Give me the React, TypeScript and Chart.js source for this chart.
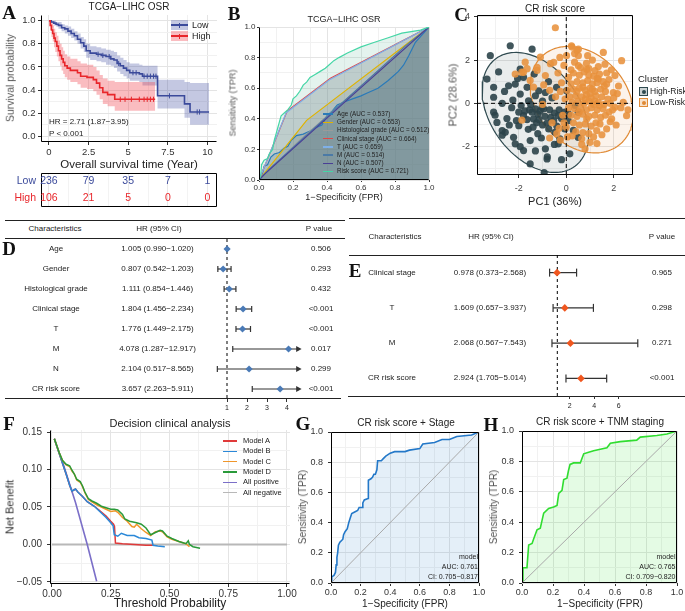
import React, { useEffect, useRef } from "react";
import { Chart, registerables } from "chart.js";

Chart.register(...registerables);

const SANS = '"Liberation Sans", Arial, Helvetica, sans-serif';
const SERIF = '"Liberation Serif", "Times New Roman", serif';
Chart.defaults.font.family = SANS;

// ================= DATA =================
// ---- A: Kaplan–Meier, TCGA-LIHC OSR ----
const kmLowTime = [0, 0.15, 0.3, 0.45, 0.6, 0.8, 1.0, 1.2, 1.4, 1.6, 1.8, 2.0, 2.2, 2.35, 2.6, 3.0, 3.3, 3.6, 3.9, 4.1, 4.3, 4.5, 4.7, 4.9, 5.1, 5.7, 5.9, 6.85, 8.55, 8.9, 10.1];
const kmLowSurv = [1.0, 0.99, 0.98, 0.97, 0.96, 0.94, 0.93, 0.91, 0.89, 0.87, 0.84, 0.81, 0.78, 0.74, 0.72, 0.71, 0.70, 0.69, 0.67, 0.66, 0.63, 0.61, 0.59, 0.57, 0.55, 0.54, 0.52, 0.35, 0.28, 0.21, 0.21];
const kmLowUpper = [1.0, 1.0, 1.0, 0.99, 0.99, 0.97, 0.96, 0.95, 0.93, 0.91, 0.89, 0.86, 0.84, 0.80, 0.78, 0.77, 0.76, 0.75, 0.74, 0.73, 0.70, 0.68, 0.66, 0.64, 0.63, 0.62, 0.61, 0.49, 0.47, 0.46, 0.46];
const kmLowLower = [1.0, 0.98, 0.96, 0.95, 0.93, 0.91, 0.89, 0.87, 0.85, 0.83, 0.80, 0.76, 0.73, 0.68, 0.66, 0.65, 0.64, 0.62, 0.61, 0.59, 0.56, 0.54, 0.52, 0.50, 0.48, 0.47, 0.44, 0.24, 0.16, 0.10, 0.10];
const kmLowCensor = [3.1, 3.4, 3.8, 4.4, 5.3, 5.5, 6.0, 6.2, 6.4, 6.6, 6.75, 7.6, 9.35, 9.5];
const kmHighTime = [0, 0.08, 0.16, 0.24, 0.32, 0.4, 0.5, 0.6, 0.7, 0.8, 0.9, 1.0, 1.15, 1.35, 1.8, 2.0, 2.4, 2.8, 3.0, 3.2, 3.4, 3.7, 4.15, 6.7];
const kmHighSurv = [1.0, 0.96, 0.92, 0.89, 0.85, 0.82, 0.78, 0.74, 0.70, 0.67, 0.64, 0.61, 0.59, 0.57, 0.55, 0.52, 0.51, 0.49, 0.46, 0.42, 0.38, 0.36, 0.32, 0.32];
const kmHighUpper = [1.0, 1.0, 0.99, 0.96, 0.93, 0.90, 0.87, 0.83, 0.80, 0.77, 0.74, 0.71, 0.69, 0.67, 0.65, 0.63, 0.62, 0.60, 0.57, 0.53, 0.50, 0.48, 0.47, 0.47];
const kmHighLower = [1.0, 0.92, 0.86, 0.82, 0.77, 0.73, 0.69, 0.65, 0.61, 0.57, 0.54, 0.51, 0.49, 0.47, 0.45, 0.42, 0.41, 0.39, 0.36, 0.32, 0.28, 0.26, 0.22, 0.22];
const kmHighCensor = [4.5, 4.8, 5.2, 5.7, 6.0, 6.2, 6.4, 6.6];
const kmXTicks = [0, 2.5, 5, 7.5, 10];
const kmXMinor = [1.25, 3.75, 6.25, 8.75];
const kmYTicks = [0, 0.2, 0.4, 0.6, 0.8, 1.0];
const kmYMinor = [0.1, 0.3, 0.5, 0.7, 0.9];
const riskTimes = [0, 2.5, 5, 7.5, 10];
const riskLow = [236, 79, 35, 7, 1];
const riskHigh = [106, 21, 5, 0, 0];

// ---- B: ROC of clinical factors ----
const rocAge = [[0, 0], [0.02, 0.04], [0.03, 0.09], [0.05, 0.1], [0.07, 0.15], [0.09, 0.17], [0.12, 0.18], [0.15, 0.21], [0.17, 0.22], [0.19, 0.26], [0.22, 0.29], [0.26, 0.3], [0.3, 0.32], [0.33, 0.34], [0.37, 0.36], [0.4, 0.42], [0.43, 0.45], [0.46, 0.49], [0.5, 0.51], [0.55, 0.53], [0.6, 0.55], [0.64, 0.57], [0.7, 0.6], [0.76, 0.65], [0.82, 0.71], [0.85, 0.75], [0.88, 0.81], [0.92, 0.9], [1, 1]];
const rocGender = [[0, 0], [0.28, 0.39], [1, 1]];
const rocHist = [[0, 0], [0.25, 0.27], [0.75, 0.76], [1, 1]];
const rocClinical = [[0, 0], [0.165, 0.45], [0.42, 0.665], [1, 1]];
const rocT = [[0, 0], [0.16, 0.44], [0.415, 0.655], [1, 1]];
const rocM = [[0, 0], [0.06, 0.07], [0.5, 0.515], [0.86, 0.875], [1, 1]];
const rocN = [[0, 0], [0.03, 0.035], [0.55, 0.555], [1, 1]];
const rocRisk = [[0, 0], [0.01, 0.03], [0.015, 0.1], [0.03, 0.13], [0.05, 0.14], [0.06, 0.17], [0.08, 0.2], [0.09, 0.26], [0.1, 0.3], [0.11, 0.34], [0.12, 0.38], [0.13, 0.42], [0.15, 0.44], [0.17, 0.46], [0.19, 0.49], [0.2, 0.53], [0.22, 0.55], [0.24, 0.58], [0.26, 0.62], [0.28, 0.64], [0.3, 0.67], [0.33, 0.69], [0.36, 0.71], [0.39, 0.73], [0.41, 0.75], [0.44, 0.78], [0.47, 0.8], [0.52, 0.83], [0.6, 0.87], [0.68, 0.9], [0.76, 0.93], [0.84, 0.96], [0.95, 0.98], [1, 1]];
const rocBCurves = [rocAge, rocGender, rocHist, rocClinical, rocT, rocM, rocN, rocRisk];
const rocBLabels = ["Age (AUC = 0.537)", "Gender (AUC = 0.553)", "Histological grade (AUC = 0.512)", "Clinical stage (AUC = 0.664)", "T (AUC = 0.659)", "M (AUC = 0.514)", "N (AUC = 0.507)", "Risk score (AUC = 0.721)"];
const rocBColors = ["#2a7ab9", "#e0b400", "#9a9a9a", "#e04848", "#7fb0e8", "#4b7aa6", "#4a3f96", "#45d6a6"];
const rocBFill = ["#3f6d8c", "#8a8a6a", "#7a8488", "#8c6a6a", "#6f8fa8", "#4f6f86", "#4f5a7a", "#7fc4ae"];
const unitTicks = [0, 0.2, 0.4, 0.6, 0.8, 1.0];
const unitMinor = [0.1, 0.3, 0.5, 0.7, 0.9];

// ---- C: PCA of CR risk score ----
const highRiskPts = [
  [-2.36, 2.66], [-1.44, 2.5], [-3.2, 2.2], [-1.94, 1.58], [-3.34, 1.12], [-2.43, 0.81], [-2.15, 0.89], [-3.06, 0.74], [-1.8, 1.2], [-1.65, 0.74], [-1.94, 0.43], [-1.16, 0.58], [-0.88, 0.5], [-3.06, 0.28], [-1.59, 0.12], [-1.3, 0.35], [-2.6, 0.55], [-2.25, 0.15], [-1.0, 0.1], [-0.6, 0.25], [-0.41, 0.74], [0.01, 0.58], [-2.05, 1.15], [-1.35, 1.35], [-2.85, 1.45], [-0.75, 1.0],
  [-3.06, -0.41], [-2.92, -0.88], [-2.0, -0.41], [-1.8, -0.57], [-1.44, -0.41], [-1.3, -0.26], [-1.02, -0.18], [-1.38, -0.72], [-1.2, -0.5], [-1.1, -0.35], [-1.55, -0.3], [-1.65, -0.75], [-0.9, -0.6], [-0.7, -0.3], [-0.5, -0.45], [-0.3, -0.3], [-0.2, -0.7], [-0.06, -0.41], [0.1, -0.5], [0.37, -0.1], [-0.8, -0.9], [-1.0, -1.0], [-1.25, -0.9], [-2.3, -0.2], [-2.5, -0.7], [-2.7, 0.0], [-1.9, -0.1], [-2.1, -0.8], [-0.34, -0.57], [0.08, -0.8], [0.5, -0.41], [-1.5, -0.05], [-1.15, -0.75], [-0.65, -0.65], [-1.75, -0.35], [-0.95, -0.25], [-1.4, -1.1],
  [-2.0, -1.03], [-2.57, -1.34], [-2.7, -1.26], [-2.22, -1.57], [-2.15, -1.87], [-1.52, -1.72], [-1.8, -2.18], [-0.88, -2.1], [-0.81, -2.57], [-1.52, -2.8], [-0.93, -3.2], [-0.53, -0.8], [-0.74, -1.18], [-1.94, -2.0], [-2.7, -1.47], [-3.0, -0.55], [-0.8, -2.47], [-0.48, -1.34], [-0.06, -1.18], [-0.27, -1.64], [-0.34, -1.87], [0.15, -2.33], [0.5, -1.57], [-0.5, -1.9], [-1.2, -1.4], [-1.6, -1.2], [-0.4, -1.05], [0.3, -1.25], [-1.05, -1.6], [-2.4, -1.0], [-1.3, -2.2], [-0.2, -2.6],
];
const lowRiskPts = [
  [-0.46, 3.49], [0.22, 2.66], [0.51, 2.5], [0.24, 2.6], [0.45, 2.44], [0.51, 2.2], [1.56, 2.35], [2.33, 1.97], [1.63, 1.81], [-0.27, 2.12], [0.01, 2.2], [0.51, 1.74], [0.86, 1.58], [1.21, 1.51], [2.05, 1.28], [1.35, 1.12], [1.7, 0.89], [1.98, 0.5], [2.4, 0.05], [2.54, -0.57], [2.05, -0.18], [1.91, -0.72], [1.7, -1.18], [1.28, -1.26], [1.29, -1.86], [0.79, -2.1], [0.65, -1.64], [1.42, -0.95], [0.86, -0.72],
  [-1.73, 1.9], [-1.87, 1.44], [-1.65, 1.6], [-1.87, -0.78], [-0.25, -1.7], [-1.09, 2.13], [-1.23, 1.52], [-0.67, 1.83], [-1.52, 1.06], [-1.38, 0.75], [-2.15, 1.35], [-1.8, 1.43], [-1.23, 1.66], [-0.88, 1.28], [-0.53, 1.89], [-0.95, 0.85], [-0.7, 0.6], [-0.35, 1.4], [-0.2, 0.95], [-0.45, 0.3], [-0.1, -0.9], [-0.4, -1.4], [0.05, -1.55], [-1.0, -0.05], [-0.7, -1.6],
  [0.1, 1.2], [0.3, 1.4], [0.55, 1.3], [0.75, 1.45], [0.95, 1.3], [1.15, 1.25], [1.4, 1.35], [0.2, 0.9], [0.45, 1.0], [0.7, 0.95], [0.9, 1.05], [1.1, 0.9], [1.3, 0.95], [1.55, 1.0], [1.8, 1.1], [0.05, 0.6], [0.3, 0.65], [0.55, 0.7], [0.8, 0.6], [1.0, 0.7], [1.2, 0.55], [1.45, 0.65], [1.65, 0.55], [0.15, 0.3], [0.4, 0.35], [0.65, 0.3], [0.85, 0.4], [1.05, 0.25], [1.25, 0.35], [1.5, 0.3], [1.75, 0.2], [2.0, 0.25], [0.25, 0.05], [0.5, 0.1], [0.75, 0.0], [0.95, 0.1], [1.15, -0.05], [1.35, 0.05], [1.6, -0.05], [1.85, 0.0], [0.1, -0.2], [0.35, -0.25], [0.6, -0.2], [0.85, -0.3], [1.05, -0.2], [1.3, -0.3], [1.55, -0.25], [1.8, -0.4], [0.2, -0.55], [0.45, -0.6], [0.7, -0.5], [0.95, -0.6], [1.2, -0.55], [1.45, -0.65], [1.65, -0.55], [0.3, -0.9], [0.55, -1.0], [0.8, -0.95], [1.05, -1.05], [1.25, -0.9], [0.4, -1.3], [0.7, -1.35], [0.95, -1.4], [1.15, -1.55], [0.25, -1.5], [1.5, -1.45], [0.0, -1.1], [-0.15, -0.55], [-0.05, 0.2], [-0.25, 0.55], [0.6, 1.65], [0.85, 1.85], [1.1, 2.0], [0.35, 1.9], [1.35, 1.7], [1.9, 1.55], [2.2, 0.8], [2.3, -0.2], [2.1, -1.0], [1.95, -0.3], [2.15, 0.45], [1.7, 1.4], [0.65, -1.9], [1.0, -1.8], [-0.6, -0.9], [-0.3, -1.15], [0.9, 2.2], [1.2, 0.1], [0.45, 0.55], [0.7, 0.75], [1.0, 0.45], [1.4, -0.1], [0.55, -0.4], [0.8, 0.2], [1.1, 0.65], [1.3, 1.15], [0.2, 1.55], [-0.1, 1.75], [1.6, 0.8], [0.95, 1.6], [2.6, -0.3], [1.85, -0.85], [0.35, 2.3],
];
// confidence ellipses: centre x, centre y, semi-axis a, semi-axis b, angle (deg)
const highEllipse = [-1.3, -0.42, 3.0, 1.93, -60];
const lowEllipse = [0.65, 0.17, 2.63, 1.96, -58];
const pcXTicks = [-2, 0, 2];
const pcXMinor = [-3, -1, 1];
const pcYTicks = [-2, 0, 2, 4];
const pcYMinor = [-3, -1, 1, 3];

// ---- D: univariate Cox ----
const dRows = ["Age", "Gender", "Histological grade", "Clinical stage", "T", "M", "N", "CR risk score"];
const dHR = [1.005, 0.807, 1.111, 1.804, 1.776, 4.078, 2.104, 3.657];
const dLow = [0.99, 0.542, 0.854, 1.456, 1.449, 1.287, 0.517, 2.263];
const dHigh = [1.02, 1.203, 1.446, 2.234, 2.175, 12.917, 8.565, 5.911];
const dP = ["0.506", "0.293", "0.432", "<0.001", "<0.001", "0.017", "0.299", "<0.001"];
const dTicks = [1, 2, 3, 4];

// ---- E: multivariate Cox ----
const eRows = ["Clinical stage", "T", "M", "CR risk score"];
const eHR = [0.978, 1.609, 2.068, 2.924];
const eLow = [0.373, 0.657, 0.567, 1.705];
const eHigh = [2.568, 3.937, 7.543, 5.014];
const eP = ["0.965", "0.298", "0.271", "<0.001"];
const eTicks = [2, 4, 6];

// ---- F: decision curve ----
const dcaAllPos = [[0.01, 0.141], [0.05, 0.105], [0.1, 0.056], [0.15, 0.0], [0.19, -0.049]];
const dcaAllNeg = [[0, 0], [1, 0]];
const dcaModelA = [[0.01, 0.141], [0.03, 0.122], [0.045, 0.108], [0.06, 0.094], [0.075, 0.079], [0.085, 0.071], [0.095, 0.073], [0.1, 0.074], [0.11, 0.07], [0.13, 0.064], [0.15, 0.057], [0.18, 0.051], [0.2, 0.046], [0.23, 0.038], [0.25, 0.031], [0.262, 0.027], [0.266, 0.024], [0.27, 0.002], [0.3, 0.001], [0.35, 0.0], [0.4, -0.001], [0.43, -0.001]];
const dcaModelB = [[0.01, 0.141], [0.03, 0.122], [0.045, 0.108], [0.06, 0.094], [0.075, 0.079], [0.085, 0.071], [0.095, 0.073], [0.1, 0.074], [0.11, 0.07], [0.13, 0.064], [0.15, 0.057], [0.18, 0.051], [0.2, 0.045], [0.23, 0.036], [0.25, 0.029], [0.26, 0.025], [0.265, 0.013], [0.28, 0.011], [0.295, 0.015], [0.32, 0.012], [0.35, 0.012], [0.37, 0.009], [0.4, 0.008], [0.425, 0.006], [0.43, -0.001], [0.45, -0.002], [0.48, -0.003]];
const dcaModelC = [[0.01, 0.141], [0.03, 0.123], [0.045, 0.112], [0.06, 0.106], [0.075, 0.104], [0.085, 0.098], [0.095, 0.094], [0.105, 0.086], [0.12, 0.083], [0.13, 0.077], [0.14, 0.069], [0.155, 0.06], [0.17, 0.057], [0.19, 0.053], [0.21, 0.05], [0.23, 0.047], [0.25, 0.044], [0.27, 0.045], [0.28, 0.043], [0.3, 0.036], [0.32, 0.031], [0.34, 0.024], [0.35, 0.023], [0.36, 0.027], [0.38, 0.021], [0.4, 0.016], [0.42, 0.012], [0.44, 0.017], [0.46, 0.018], [0.47, 0.017], [0.49, 0.01], [0.51, 0.007], [0.54, 0.004], [0.57, 0.001], [0.585, -0.003]];
const dcaModelD = [[0.01, 0.141], [0.03, 0.123], [0.045, 0.112], [0.06, 0.107], [0.075, 0.105], [0.085, 0.099], [0.095, 0.094], [0.105, 0.087], [0.12, 0.084], [0.13, 0.078], [0.14, 0.07], [0.155, 0.061], [0.17, 0.058], [0.19, 0.055], [0.21, 0.051], [0.23, 0.049], [0.25, 0.047], [0.265, 0.047], [0.28, 0.046], [0.3, 0.04], [0.31, 0.034], [0.33, 0.031], [0.36, 0.029], [0.38, 0.027], [0.4, 0.022], [0.42, 0.013], [0.44, 0.016], [0.46, 0.019], [0.47, 0.018], [0.49, 0.011], [0.51, 0.008], [0.54, 0.004], [0.57, 0.001], [0.58, 0.005], [0.585, 0.0], [0.6, -0.003], [0.63, -0.005]];
const dcaNames = ["Model A", "Model B", "Model C", "Model D", "All positive", "All negative"];
const dcaColors = ["#e03a3a", "#2a88d8", "#f0962a", "#2a9a3a", "#7b6fc8", "#b8b8b8"];
const dcaXTicks = [0, 0.25, 0.5, 0.75, 1.0];
const dcaXMinor = [0.125, 0.375, 0.625, 0.875];
const dcaYTicks = [-0.05, 0, 0.05, 0.1, 0.15];
const dcaYMinor = [-0.025, 0.025, 0.075, 0.125];

// ---- G / H: ROC of combined models ----
const rocStage = [[0, 0], [0.005, 0.02], [0.005, 0.04], [0.02, 0.05], [0.03, 0.07], [0.035, 0.12], [0.04, 0.17], [0.045, 0.2], [0.05, 0.25], [0.06, 0.27], [0.07, 0.28], [0.08, 0.29], [0.085, 0.32], [0.095, 0.34], [0.11, 0.36], [0.12, 0.4], [0.13, 0.43], [0.14, 0.46], [0.16, 0.47], [0.18, 0.48], [0.19, 0.5], [0.21, 0.5], [0.215, 0.53], [0.225, 0.55], [0.25, 0.56], [0.25, 0.62], [0.255, 0.68], [0.27, 0.69], [0.28, 0.7], [0.29, 0.72], [0.3, 0.72], [0.31, 0.75], [0.315, 0.81], [0.34, 0.81], [0.35, 0.82], [0.37, 0.84], [0.4, 0.86], [0.43, 0.87], [0.5, 0.87], [0.53, 0.88], [0.6, 0.89], [0.62, 0.92], [0.7, 0.93], [0.75, 0.95], [0.8, 0.95], [0.85, 0.97], [0.95, 0.98], [1, 1]];
const rocTNM = [[0, 0], [0.006, 0.1], [0.032, 0.1], [0.043, 0.25], [0.065, 0.26], [0.075, 0.29], [0.097, 0.35], [0.118, 0.36], [0.129, 0.41], [0.14, 0.46], [0.172, 0.49], [0.204, 0.5], [0.226, 0.51], [0.237, 0.59], [0.258, 0.61], [0.269, 0.68], [0.29, 0.69], [0.3, 0.74], [0.31, 0.78], [0.333, 0.79], [0.376, 0.79], [0.398, 0.85], [0.43, 0.86], [0.462, 0.87], [0.505, 0.88], [0.548, 0.89], [0.57, 0.92], [0.634, 0.93], [0.74, 0.94], [0.763, 0.96], [0.87, 0.97], [0.935, 0.98], [1, 1]];
const rocStageText = ["model", "AUC: 0.761", "CI: 0.705\u22120.817"];
const rocTNMText = ["model", "AUC: 0.765", "CI: 0.709\u22120.820"];

// ================= HELPERS =================
const LOW = "#3b4a9b";
const HIGH = "#e8262b";
const near = (a: number, b: number) => Math.abs(a - b) < 1e-9;
const pts = (xs: number[], ys: number[]) => xs.map((x, i) => ({ x, y: ys[i] }));
const pairs = (arr: number[][]) => arr.map(([x, y]) => ({ x, y }));
const rgba = (hex: string, a: number) => {
  const n = parseInt(hex.slice(1), 16);
  return `rgba(${(n >> 16) & 255},${(n >> 8) & 255},${n & 255},${a})`;
};
function survAt(times: number[], surv: number[], t: number) {
  let s = surv[0];
  for (let i = 0; i < times.length; i++) if (times[i] <= t) s = surv[i];
  return s;
}
function ellipsePts(p: number[]) {
  const [cx, cy, a, b, deg] = p;
  const th = (deg * Math.PI) / 180;
  const out: any[] = [];
  for (let k = 0; k <= 120; k++) {
    const t = (2 * Math.PI * k) / 120;
    out.push({
      x: cx + a * Math.cos(th) * Math.cos(t) - b * Math.sin(th) * Math.sin(t),
      y: cy + a * Math.sin(th) * Math.cos(t) + b * Math.cos(th) * Math.sin(t),
    });
  }
  return out;
}
const zeroPad = (s: any) => {
  s.paddingTop = 0;
  s.paddingBottom = 0;
  s.paddingLeft = 0;
  s.paddingRight = 0;
};

function axis(o: any) {
  const major: number[] = o.major || [];
  const minor: number[] = o.minor || [];
  const all = [...major, ...minor].sort((a, b) => a - b);
  const isMajor = (v: number) => major.some((m) => near(m, v));
  const tl = o.tickLen ?? 3;
  return {
    type: "linear",
    display: true,
    min: o.min,
    max: o.max,
    reverse: !!o.reverse,
    bounds: "data",
    afterBuildTicks: (s: any) => {
      s.ticks = all.map((v) => ({ value: v }));
    },
    afterFit: (s: any) => {
      if (o.isX) s.height = o.size;
      else s.width = o.size;
      zeroPad(s);
    },
    ticks: {
      display: o.labels !== false,
      autoSkip: false,
      maxRotation: 0,
      minRotation: 0,
      padding: o.pad ?? 2,
      color: o.color ?? "#333",
      font: { size: o.font ?? 9, family: SANS },
      callback: (v: number) => (isMajor(v) ? o.fmt(v) : ""),
    },
    grid: {
      drawOnChartArea: o.grid !== false,
      drawTicks: tl > 0,
      tickLength: tl,
      color: (c: any) => (c.tick && isMajor(c.tick.value) ? o.gMaj ?? "#e4e4e4" : o.gMin ?? "#f1f1f1"),
      tickColor: (c: any) => (c.tick && isMajor(c.tick.value) ? "#333" : "rgba(0,0,0,0)"),
      lineWidth: 1,
    },
    border: { display: false },
  };
}

const framePlugin = {
  id: "frame",
  afterDatasetsDraw(chart: any, _args: any, opts: any) {
    if (!opts || !opts.sides) return;
    const { left, right, top, bottom } = chart.chartArea;
    const L = Math.round(left) + 0.5, R = Math.round(right) - 0.5, T = Math.round(top) + 0.5, B = Math.round(bottom) - 0.5;
    const ctx = chart.ctx;
    ctx.save();
    ctx.strokeStyle = opts.color || "#000";
    ctx.lineWidth = opts.width || 1;
    ctx.beginPath();
    if (opts.sides.includes("l")) { ctx.moveTo(L, T); ctx.lineTo(L, B); }
    if (opts.sides.includes("b")) { ctx.moveTo(L, B); ctx.lineTo(R, B); }
    if (opts.sides.includes("r")) { ctx.moveTo(R, T); ctx.lineTo(R, B); }
    if (opts.sides.includes("t")) { ctx.moveTo(L, T); ctx.lineTo(R, T); }
    ctx.stroke();
    ctx.restore();
  },
};

function baseOptions(pad: any, frameSides: string, extra: any = {}) {
  return {
    responsive: false,
    animation: false,
    devicePixelRatio: 1,
    events: [],
    layout: { padding: pad, autoPadding: false },
    plugins: {
      legend: { display: false },
      tooltip: { enabled: false },
      title: { display: false },
      frame: { sides: frameSides, color: "#000", width: 1 },
      ...extra,
    },
  };
}

const line = (data: any[], color: string, width: number, more: any = {}) => ({
  data,
  showLine: true,
  borderColor: color,
  backgroundColor: color,
  borderWidth: width,
  pointRadius: 0,
  fill: false,
  ...more,
});

// ================= CHART CONFIGS =================
const LOW_BAND = "rgba(70,85,165,0.32)";
const HIGH_BAND = "rgba(240,70,80,0.36)";

function makeKM() {
  return {
    type: "scatter",
    data: {
      datasets: [
        line(pts(kmLowTime, kmLowUpper), LOW_BAND, 0, { stepped: true, fill: "+1", backgroundColor: LOW_BAND, order: 6 }),
        line(pts(kmLowTime, kmLowLower), LOW_BAND, 0, { stepped: true, order: 6 }),
        line(pts(kmHighTime, kmHighUpper), HIGH_BAND, 0, { stepped: true, fill: "+1", backgroundColor: HIGH_BAND, order: 5 }),
        line(pts(kmHighTime, kmHighLower), HIGH_BAND, 0, { stepped: true, order: 5 }),
        line(pts(kmLowTime, kmLowSurv), LOW, 1.6, { stepped: true, order: 3 }),
        line(pts(kmHighTime, kmHighSurv), HIGH, 1.6, { stepped: true, order: 2 }),
        {
          data: kmLowCensor.map((t) => ({ x: t, y: survAt(kmLowTime, kmLowSurv, t) })),
          pointStyle: "line", pointRotation: 90, pointRadius: 2.6, pointBorderColor: LOW, borderColor: LOW, pointBorderWidth: 1, order: 1,
        },
        {
          data: kmHighCensor.map((t) => ({ x: t, y: survAt(kmHighTime, kmHighSurv, t) })),
          pointStyle: "line", pointRotation: 90, pointRadius: 2.6, pointBorderColor: HIGH, borderColor: HIGH, pointBorderWidth: 1, order: 0,
        },
      ],
    },
    options: {
      ...baseOptions({ left: 0, top: 15, right: 8, bottom: 0 }, "lb"),
      scales: {
        x: axis({ isX: true, min: -0.5, max: 10.6, major: kmXTicks, minor: kmXMinor, fmt: (v: number) => String(v), size: 18, tickLen: 3, pad: 1.5, font: 9.5 }),
        y: axis({ min: -0.05, max: 1.05, major: kmYTicks, minor: kmYMinor, fmt: (v: number) => v.toFixed(1), size: 41, tickLen: 3, pad: 2.5, font: 9.5 }),
      },
    },
    plugins: [framePlugin],
  };
}

function makeRiskTable() {
  const textPlugin = {
    id: "riskText",
    afterDatasetsDraw(chart: any) {
      const { ctx } = chart;
      const x = chart.scales.x, y = chart.scales.y;
      ctx.save();
      ctx.font = `10.5px ${SANS}`;
      ctx.textAlign = "center";
      ctx.textBaseline = "middle";
      riskTimes.forEach((t, i) => {
        ctx.fillStyle = LOW;
        ctx.fillText(String(riskLow[i]), x.getPixelForValue(t), y.getPixelForValue(0));
        ctx.fillStyle = HIGH;
        ctx.fillText(String(riskHigh[i]), x.getPixelForValue(t), y.getPixelForValue(1));
      });
      ctx.restore();
    },
  };
  const xAxis: any = axis({ isX: true, min: -0.5, max: 10.6, major: kmXTicks, minor: kmXMinor, fmt: (v: number) => String(v), size: 0, tickLen: 0, labels: false, gMaj: "#e8e8e8", gMin: "#f3f3f3" });
  return {
    type: "scatter",
    data: { datasets: [] },
    options: {
      ...baseOptions({ left: 0, top: 0, right: 8, bottom: 0 }, "lbrt"),
      scales: {
        x: xAxis,
        y: {
          type: "linear",
          min: -0.5,
          max: 1.5,
          reverse: true,
          afterBuildTicks: (s: any) => { s.ticks = [{ value: 0 }, { value: 1 }]; },
          afterFit: (s: any) => { s.width = 41; zeroPad(s); },
          ticks: {
            padding: 5,
            font: { size: 10.5, family: SANS },
            color: (c: any) => (c.index === 0 ? LOW : HIGH),
            callback: (v: number) => (v === 0 ? "Low" : "High"),
          },
          grid: { display: false, drawTicks: false },
          border: { display: false },
        },
      },
    },
    plugins: [framePlugin, textPlugin],
  };
}

function makeROCB() {
  const ds: any[] = rocBCurves.map((c, i) =>
    line(pairs(c), rocBColors[i], 1.2, { fill: "origin", backgroundColor: rgba(rocBFill[i], 0.21), order: 8 - i })
  );
  return {
    type: "scatter",
    data: { datasets: ds },
    options: {
      ...baseOptions({ left: 0, top: 27, right: 21, bottom: 0 }, "lb", { filler: { drawTime: "beforeDatasetsDraw" } }),
      scales: {
        x: axis({ isX: true, min: 0, max: 1, major: unitTicks, minor: unitMinor, fmt: (v: number) => v.toFixed(1), size: 15, tickLen: 2, pad: 1, font: 8 }),
        y: axis({ min: 0, max: 1, major: unitTicks, minor: unitMinor, fmt: (v: number) => v.toFixed(1), size: 34, tickLen: 2, pad: 1.5, font: 8 }),
      },
    },
    plugins: [framePlugin],
  };
}

function makePCA() {
  const xMin = -3.76, xMax = 2.81, yMin = -3.31, yMax = 4.08;
  return {
    type: "scatter",
    data: {
      datasets: [
        line(ellipsePts(highEllipse), "#2f4a50", 1.2, { fill: "shape", backgroundColor: "rgba(47,74,80,0.10)", order: 10 }),
        line(ellipsePts(lowEllipse), "#e08a35", 1.2, { fill: "shape", backgroundColor: "rgba(230,140,55,0.10)", order: 9 }),
        { data: pairs(highRiskPts), pointRadius: 3.6, backgroundColor: "rgba(44,68,74,0.9)", pointBackgroundColor: "rgba(44,68,74,0.9)", pointBorderWidth: 0, order: 8 },
        { data: pairs(lowRiskPts), pointRadius: 3.6, backgroundColor: "rgba(232,146,62,0.88)", pointBackgroundColor: "rgba(232,146,62,0.88)", pointBorderWidth: 0, order: 7 },
        line([{ x: 0, y: yMin }, { x: 0, y: yMax }], "#000", 1, { borderDash: [4, 3], order: 1 }),
        line([{ x: xMin, y: 0 }, { x: xMax, y: 0 }], "#000", 1, { borderDash: [4, 3], order: 1 }),
      ],
    },
    options: {
      ...baseOptions({ left: 0, top: 15, right: 52, bottom: 0 }, "lbrt"),
      scales: {
        x: axis({ isX: true, min: xMin, max: xMax, major: pcXTicks, minor: pcXMinor, fmt: (v: number) => String(v), size: 30, tickLen: 3, pad: 5, font: 9, color: "#444" }),
        y: axis({ min: yMin, max: yMax, major: pcYTicks, minor: pcYMinor, fmt: (v: number) => String(v), size: 27, tickLen: 3, pad: 4, font: 9, color: "#444" }),
      },
    },
    plugins: [framePlugin],
  };
}

function makeForest(o: any) {
  const ds: any[] = [];
  ds.push(line([{ x: 1, y: -0.5 }, { x: 1, y: o.n - 0.5 }], "#000", 1, { borderDash: [3, 3], order: 5 }));
  o.lo.forEach((lo: number, i: number) => {
    const clipped = o.hi[i] > o.arrowAt;
    const hi = clipped ? o.arrowAt : o.hi[i];
    ds.push({
      data: [{ x: lo, y: i }, { x: hi, y: i }],
      showLine: true,
      borderColor: "#333",
      borderWidth: 1.2,
      pointStyle: ["line", clipped ? "triangle" : "line"],
      pointRotation: 90,
      pointRadius: [o.cap, clipped ? 2.4 : o.cap],
      pointBorderColor: "#333",
      pointBackgroundColor: "#333",
      pointBorderWidth: 1.2,
      clip: false,
      order: 3,
    });
  });
  ds.push({
    data: o.hr.map((h: number, i: number) => ({ x: h, y: i })),
    pointStyle: "rectRot",
    pointRadius: o.markR,
    pointBackgroundColor: o.markColor,
    pointBorderColor: o.markColor,
    pointBorderWidth: 0,
    clip: false,
    order: 1,
  });
  return {
    type: "scatter",
    data: { datasets: ds },
    options: {
      ...baseOptions({ left: o.padL, top: 0, right: o.padR, bottom: 0 }, ""),
      scales: {
        x: axis({ isX: true, min: o.min, max: o.max, major: o.ticks, fmt: (v: number) => String(v), size: o.axisH, tickLen: 3, pad: o.tickPad, font: 7, grid: false, color: "#222" }),
        y: { type: "linear", display: false, min: -0.5, max: o.n - 0.5, reverse: true },
      },
    },
    plugins: [framePlugin],
  };
}

function makeDCA() {
  const series = [dcaModelA, dcaModelB, dcaModelC, dcaModelD, dcaAllPos, dcaAllNeg];
  const widths = [1.5, 1.5, 1.5, 1.5, 1.6, 2];
  const orders = [7, 6, 5, 4, 8, 9];
  return {
    type: "scatter",
    data: { datasets: series.map((s, i) => line(pairs(s), dcaColors[i], widths[i], { order: orders[i] })) },
    options: {
      ...baseOptions({ left: 0, top: 15, right: 10, bottom: 0 }, "lb"),
      scales: {
        x: axis({ isX: true, min: -0.0085, max: 1.0128, major: dcaXTicks, minor: dcaXMinor, fmt: (v: number) => v.toFixed(2), size: 27, tickLen: 3, pad: 1, font: 10 }),
        y: axis({ min: -0.05267, max: 0.15267, major: dcaYTicks, minor: dcaYMinor, fmt: (v: number) => v.toFixed(2).replace("-", "\u2212"), size: 50, tickLen: 3, pad: 5, font: 10 }),
      },
    },
    plugins: [framePlugin],
  };
}

function makeROC(curve: number[][], color: string, fillA: number, padTop: number, padRight: number, yW: number) {
  return {
    type: "scatter",
    data: {
      datasets: [
        line(pairs(curve), color, 1.6, { fill: "origin", backgroundColor: rgba(color, fillA), order: 2 }),
        line([{ x: 0, y: 0 }, { x: 1, y: 1 }], "#a9a9a9", 1, { order: 1 }),
      ],
    },
    options: {
      ...baseOptions({ left: 0, top: padTop, right: padRight, bottom: 0 }, "lbrt"),
      scales: {
        x: axis({ isX: true, min: 0, max: 1, major: unitTicks, minor: unitMinor, fmt: (v: number) => v.toFixed(1), size: 28, tickLen: 3, pad: 1, font: 9 }),
        y: axis({ min: 0, max: 1, major: unitTicks, minor: unitMinor, fmt: (v: number) => v.toFixed(1), size: yW, tickLen: 3, pad: 5, font: 9 }),
      },
    },
    plugins: [framePlugin],
  };
}

// ================= COMPONENTS =================
function ChartCanvas({ x, y, w, h, make }: any) {
  const ref = useRef<HTMLCanvasElement>(null);
  useEffect(() => {
    const chart = new Chart(ref.current as HTMLCanvasElement, make() as any);
    return () => chart.destroy();
  }, []);
  return <canvas ref={ref} width={w} height={h} style={{ position: "absolute", left: x, top: y, width: w, height: h }} />;
}

function Txt({ x, y, s = 8, a = "c", rot = false, color = "#222", font = SANS, weight = "normal", children }: any) {
  const tx = a === "c" ? "-50%" : a === "r" ? "-100%" : "0";
  return (
    <div
      style={{
        position: "absolute", left: x, top: y,
        transform: `translate(${tx}, -50%)${rot ? " rotate(-90deg)" : ""}`,
        fontSize: s, lineHeight: 1, whiteSpace: "nowrap", color, fontFamily: font, fontWeight: weight,
      }}
    >
      {children}
    </div>
  );
}

function HLine({ x1, x2, y, color = "#222" }: any) {
  return <div style={{ position: "absolute", left: x1, top: y, width: x2 - x1, height: 1, background: color }} />;
}

function Letter({ x, y, children }: any) {
  return <Txt x={x} y={y} s={19} font={SERIF} weight="bold" color="#111">{children}</Txt>;
}

const fmtHR = (h: number, lo: number, hi: number) => `${h.toFixed(3)} (${lo.toFixed(3)}\u2212${hi.toFixed(3)})`;
const ROT = "#555";

export default function App() {
  const dRowY = (i: number) => 249 + 20 * i;
  const eRowY = [272.6, 307.9, 343.1, 378.4];
  return (
    <div style={{ position: "absolute", left: 0, top: 0, width: 685, height: 611, background: "#fff", overflow: "hidden", fontFamily: SANS }}>
      {/* ---------- A ---------- */}
      <ChartCanvas x={0} y={0} w={225} h={160} make={makeKM} />
      <ChartCanvas x={0} y={173} w={225} h={34} make={makeRiskTable} />
      <Letter x={9} y={12}>A</Letter>
      <Txt x={129} y={7} s={10}>TCGA{"\u2212"}LIHC OSR</Txt>
      <Txt x={10} y={78} s={10.5} rot color={ROT}>Survival probability</Txt>
      <Txt x={129} y={165} s={11.5}>Overall survival time (Year)</Txt>
      <Txt x={49} y={122} s={8} a="l">HR = 2.71 (1.87{"\u2212"}3.95)</Txt>
      <Txt x={49} y={133.5} s={8} a="l">P &lt; 0.001</Txt>
      {[["Low", LOW, LOW_BAND, 20], ["High", HIGH, HIGH_BAND, 31]].map(([lbl, c, bg, top]: any) => (
        <React.Fragment key={lbl}>
          <div style={{ position: "absolute", left: 171, top, width: 17, height: 10, background: bg }}>
            <div style={{ position: "absolute", left: 0, top: 4.3, width: 17, height: 1.5, background: c }} />
            <div style={{ position: "absolute", left: 8, top: 2.5, width: 1, height: 5.5, background: c }} />
          </div>
          <Txt x={192} y={top + 5} s={9} a="l">{lbl}</Txt>
        </React.Fragment>
      ))}

      {/* ---------- B ---------- */}
      <ChartCanvas x={225} y={0} w={225} h={195} make={makeROCB} />
      <Letter x={234} y={13}>B</Letter>
      <Txt x={344} y={19} s={9}>TCGA{"\u2212"}LIHC OSR</Txt>
      <Txt x={233} y={103} s={9} rot color={ROT}>Sensitivity (TPR)</Txt>
      <Txt x={344} y={197} s={9}>1{"\u2212"}Specificity (FPR)</Txt>
      {rocBLabels.map((l, i) => (
        <React.Fragment key={l}>
          <div style={{ position: "absolute", left: 323, top: 113.3 + 8.2 * i, width: 10, height: 1.6, background: rocBColors[i] }} />
          <Txt x={337} y={114 + 8.2 * i} s={6.3} a="l" color="#222">{l}</Txt>
        </React.Fragment>
      ))}

      {/* ---------- C ---------- */}
      <ChartCanvas x={450} y={0} w={235} h={205} make={makePCA} />
      <Letter x={461} y={14}>C</Letter>
      <Txt x={555} y={9} s={10}>CR risk score</Txt>
      <Txt x={453} y={95} s={11} rot color={ROT}>PC2 (28.6%)</Txt>
      <Txt x={555} y={201} s={11}>PC1 (36%)</Txt>
      <Txt x={638} y={79} s={9.5} a="l">Cluster</Txt>
      {[["High-Risk", "#2f4a50", 91], ["Low-Risk", "#e08a35", 102]].map(([lbl, c, yy]: any) => (
        <React.Fragment key={lbl}>
          <div style={{ position: "absolute", left: 639, top: yy - 4, width: 7, height: 7, border: `1px solid ${c}`, background: rgba(c, 0.25) }}>
            <div style={{ position: "absolute", left: 1.5, top: 1.5, width: 4, height: 4, borderRadius: 2, background: c }} />
          </div>
          <Txt x={650} y={yy} s={8.5} a="l">{lbl}</Txt>
        </React.Fragment>
      ))}

      {/* ---------- D ---------- */}
      <HLine x1={5} x2={345} y={219.5} />
      <HLine x1={5} x2={345} y={237.5} />
      <HLine x1={5} x2={341} y={398} />
      <Txt x={55} y={229} s={8}>Characteristics</Txt>
      <Txt x={159} y={229} s={8}>HR (95% CI)</Txt>
      <Txt x={319} y={229} s={8}>P value</Txt>
      {dRows.map((r, i) => (
        <React.Fragment key={r}>
          <Txt x={56} y={dRowY(i)} s={8}>{r}</Txt>
          <Txt x={157.5} y={dRowY(i)} s={8}>{fmtHR(dHR[i], dLow[i], dHigh[i])}</Txt>
          <Txt x={321} y={dRowY(i)} s={8}>{dP[i]}</Txt>
        </React.Fragment>
      ))}
      <ChartCanvas
        x={200} y={239} w={110} h={178}
        make={() => makeForest({ n: dRows.length, hr: dHR, lo: dLow, hi: dHigh, arrowAt: 4.55, min: 0.25, max: 4.65, ticks: dTicks, padL: 12, padR: 10, axisH: 18, tickPad: 2, cap: 3, markR: 3.6, markColor: "#4a7ab6" })}
      />
      <Letter x={9} y={248}>D</Letter>

      {/* ---------- E ---------- */}
      <HLine x1={349} x2={685} y={217.5} />
      <HLine x1={349} x2={685} y={254.5} />
      <HLine x1={348} x2={685} y={396} />
      <Txt x={395} y={237} s={8}>Characteristics</Txt>
      <Txt x={491} y={237} s={8}>HR (95% CI)</Txt>
      <Txt x={662} y={237} s={8}>P value</Txt>
      {eRows.map((r, i) => (
        <React.Fragment key={r}>
          <Txt x={392} y={eRowY[i]} s={8}>{r}</Txt>
          <Txt x={490} y={eRowY[i]} s={8}>{fmtHR(eHR[i], eLow[i], eHigh[i])}</Txt>
          <Txt x={662} y={eRowY[i]} s={8}>{eP[i]}</Txt>
        </React.Fragment>
      ))}
      <ChartCanvas
        x={530} y={255} w={125} h={157}
        make={() => makeForest({ n: eRows.length, hr: eHR, lo: eLow, hi: eHigh, arrowAt: 99, min: 0, max: 8, ticks: eTicks, padL: 15, padR: 11.6, axisH: 16, tickPad: 3, cap: 4, markR: 3.8, markColor: "#f0561e" })}
      />
      <Letter x={355} y={270}>E</Letter>

      {/* ---------- F ---------- */}
      <ChartCanvas x={0} y={415} w={300} h={196} make={makeDCA} />
      <Letter x={9} y={423}>F</Letter>
      <Txt x={170} y={423} s={11}>Decision clinical analysis</Txt>
      <Txt x={10} y={507} s={11} rot color="#333">Net Benefit</Txt>
      <Txt x={170} y={603} s={12}>Threshold Probability</Txt>
      {dcaNames.map((n, i) => (
        <React.Fragment key={n}>
          <div style={{ position: "absolute", left: 223, top: 440.3 + 10.3 * i, width: 14, height: 1.6, background: dcaColors[i] }} />
          <Txt x={243} y={441 + 10.3 * i} s={7.5} a="l">{n}</Txt>
        </React.Fragment>
      ))}

      {/* ---------- G ---------- */}
      <ChartCanvas x={300} y={415} w={190} h={196} make={() => makeROC(rocStage, "#2378c8", 0.12, 17, 11, 31)} />
      <Letter x={303} y={423}>G</Letter>
      <Txt x={406} y={423} s={10}>CR risk score + Stage</Txt>
      <Txt x={303} y={507} s={10} rot color={ROT}>Sensitivity (TPR)</Txt>
      <Txt x={405} y={604} s={10}>1{"\u2212"}Specificity (FPR)</Txt>
      {rocStageText.map((t, i) => (
        <Txt key={t} x={478} y={556 + 10 * i} s={7} a="r">{t}</Txt>
      ))}

      {/* ---------- H ---------- */}
      <ChartCanvas x={490} y={415} w={195} h={196} make={() => makeROC(rocTNM, "#30dd30", 0.13, 16, 8, 32)} />
      <Letter x={491} y={424}>H</Letter>
      <Txt x={600} y={422} s={10}>CR risk score + TNM staging</Txt>
      <Txt x={494} y={507} s={10} rot color={ROT}>Sensitivity (TPR)</Txt>
      <Txt x={600} y={604} s={10}>1{"\u2212"}Specificity (FPR)</Txt>
      {rocTNMText.map((t, i) => (
        <Txt key={t} x={675.5} y={556 + 10 * i} s={7} a="r">{t}</Txt>
      ))}
    </div>
  );
}
